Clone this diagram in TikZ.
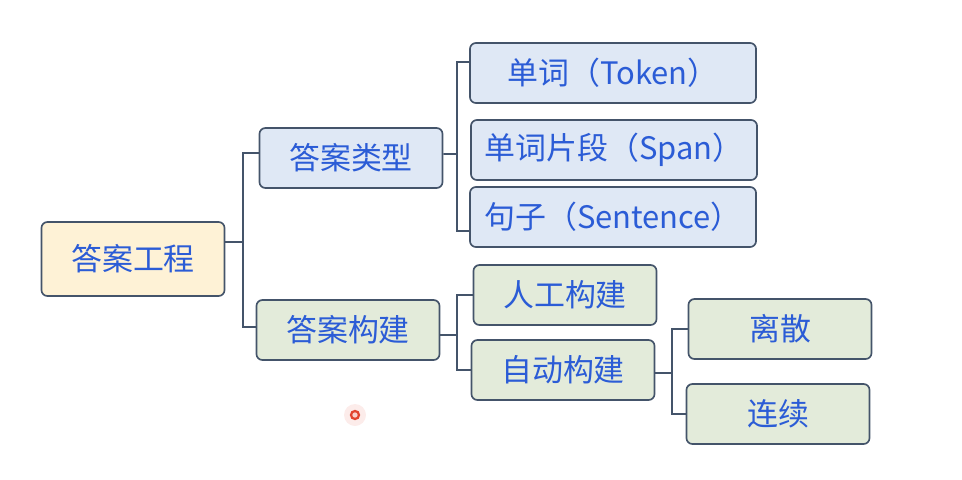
\documentclass[tikz,border=0pt]{standalone}
\usepackage{fontspec}
\setmainfont{Noto Sans CJK SC}
\usepackage{xcolor}
\usepackage{tikz}
\usetikzlibrary{positioning, calc}

\definecolor{txtblue}{HTML}{2B5CD6}
\definecolor{edgegray}{HTML}{44546A}
\definecolor{rootfill}{HTML}{FEF2D6}
\definecolor{typefill}{HTML}{DFE8F5}
\definecolor{buildfill}{HTML}{E3EBDA}
\definecolor{cursorred}{HTML}{E2452F}

\begin{document}
\begin{tikzpicture}[
    x=0.025cm, y=-0.025cm,
    font=\fontsize{22pt}{25pt}\selectfont,
    box/.style={
      draw=edgegray,
      line width=1.2pt,
      rounded corners=0.15cm,
      align=center,
      text=txtblue,
      inner sep=0pt,
      minimum width=4.575cm,
      minimum height=1.5cm
    },
    rootbox/.style={box, fill=rootfill, minimum height=1.85cm},
    typebox/.style={box, fill=typefill},
    widebox/.style={box, fill=typefill, minimum width=7.15cm},
    buildbox/.style={box, fill=buildfill},
    conn/.style={draw=edgegray, line width=1.2pt}
]
\useasboundingbox (0,0) rectangle (962,480);

% boxes
\node[rootbox] (root) at (133,259) {答案工程};
\node[typebox] (type) at (351,158) {答案类型};
\node[buildbox] (build) at (348,330) {答案构建};
\node[widebox] (token) at (613,73) {单词（Token）};
\node[widebox] (span) at (614,150) {单词片段（Span）};
\node[widebox] (sentence) at (613,217) {句子（Sentence）};
\node[buildbox] (manual) at (565,295) {人工构建};
\node[buildbox] (auto) at (563,370) {自动构建};
\node[buildbox] (discrete) at (780,329) {离散};
\node[buildbox] (continuous) at (778,414) {连续};

% junctions
\coordinate (j0) at (243,242);
\coordinate (j1) at (457,154);
\coordinate (j2) at (457,335);
\coordinate (j3) at (672,373);

\draw[conn] (root.east |- j0) -- (j0);
\draw[conn] (j0) |- ([yshift=0.125cm]type.west);
\draw[conn] (j0) |- ([yshift=0.075cm]build.west);

\draw[conn] ([yshift=0.1cm]type.east) -- (j1);
\draw[conn] (j1) |- ([yshift=0.275cm]token.west);
\draw[conn] (j1) |- ([yshift=-0.35cm]sentence.west);

\draw[conn] (build.east |- j2) -- (j2);
\draw[conn] (j2) |- (manual.west);
\draw[conn] (j2) |- (auto.west);

\draw[conn] (auto.east |- j3) -- (j3);
\draw[conn] (j3) |- (discrete.west);
\draw[conn] (j3) |- (continuous.west);

% cursor mark
\node[circle, fill=cursorred!10, minimum size=0.55cm, inner sep=0pt] (glow) at (355,415) {};
\node[circle, draw=cursorred, line width=1.6pt, fill=cursorred!25, minimum size=0.2cm, inner sep=0pt] (dot) at (glow) {};
\end{tikzpicture}
\end{document}
